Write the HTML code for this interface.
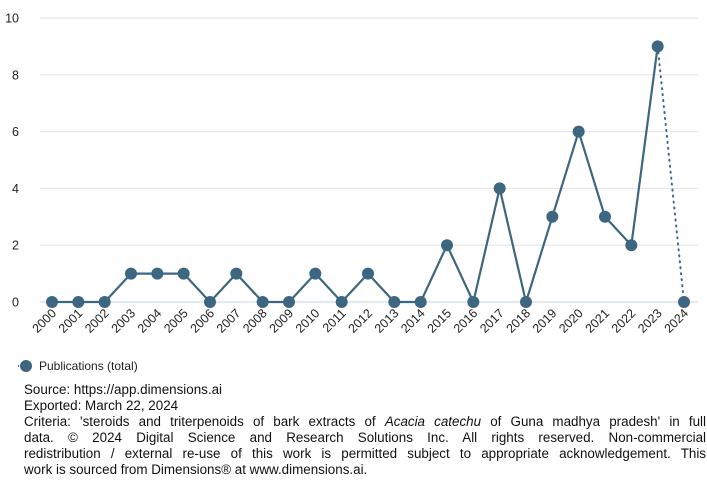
<!DOCTYPE html>
<html><head><meta charset="utf-8"><style>
body{margin:0;background:#fff;width:707px;height:489px;overflow:hidden;font-family:"Liberation Sans",Roboto,sans-serif}
svg{position:absolute;left:0;top:0}
#notes{position:absolute;left:24px;top:382px;width:682px;font-size:13.4px;line-height:16px;color:#111}
#notes .j{text-align:justify;text-align-last:justify;white-space:nowrap}
</style></head><body>
<svg width="707" height="380" id="chart"></svg>
<div id="notes">
<div>Source: https://app.dimensions.ai</div>
<div>Exported: March 22, 2024</div>
<div class="j">Criteria: 'steroids and triterpenoids of bark extracts of <i>Acacia catechu</i> of Guna madhya pradesh' in full</div>
<div class="j">data. © 2024 Digital Science and Research Solutions Inc. All rights reserved. Non-commercial</div>
<div class="j">redistribution / external re-use of this work is permitted subject to appropriate acknowledgement. This</div>
<div>work is sourced from Dimensions® at www.dimensions.ai.</div>
</div>
<script>
const years=["2000","2001","2002","2003","2004","2005","2006","2007","2008","2009","2010","2011","2012","2013","2014","2015","2016","2017","2018","2019","2020","2021","2022","2023","2024"];
const pubs=[0,0,0,1,1,1,0,1,0,0,1,0,1,0,0,2,0,4,0,3,6,3,2,9,0];
const yTicks=[0,2,4,6,8,10];
const NS="http://www.w3.org/2000/svg";
const svg=document.getElementById('chart');
const X=i=>52+i*(632/24);
const Y=v=>302-v*28.4;
function mk(t,a){const e=document.createElementNS(NS,t);for(const k in a)e.setAttribute(k,a[k]);svg.appendChild(e);return e;}
yTicks.forEach(v=>{
 const l=mk('line',{x1:40,x2:698,y1:Y(v),y2:Y(v),stroke:v===0?'#c5d3e2':'#e2e2e2','stroke-width':1});
 
 
 const t=mk('text',{x:19,y:Y(v)+4.5,'font-size':12.5,fill:'#222','text-anchor':'end'});
 t.textContent=v;
 
 
});
years.forEach((y,i)=>{
 const t=mk('text',{x:0,y:0,'font-size':12.5,fill:'#222','text-anchor':'end',transform:`translate(${X(i)+5},${314}) rotate(-45)`});
 t.textContent=y;
 
 
});
let d='';
for(let i=0;i<years.length-1;i++)d+=(i?'L':'M')+X(i)+','+Y(pubs[i]);
const p=mk('path',{d:d,fill:'none',stroke:'#3d6781','stroke-width':2.2});


const n=years.length-1;
const dl=mk('line',{x1:X(n-1),y1:Y(pubs[n-1]),x2:X(n),y2:Y(pubs[n]),stroke:'#3d6781','stroke-width':2,'stroke-dasharray':'1 5','stroke-linecap':'round'});


pubs.forEach((v,i)=>{
 const c=mk('circle',{cx:X(i),cy:Y(v),r:6,fill:'#3d6781'});
 
 
});
const g=mk('g',{});


const ll=document.createElementNS(NS,'line');
ll.setAttribute('x1',18);ll.setAttribute('x2',34);ll.setAttribute('y1',366);ll.setAttribute('y2',366);
ll.setAttribute('stroke','#3d6781');ll.setAttribute('stroke-width',2);ll.setAttribute('stroke-dasharray','1 3');
g.appendChild(ll);
const lc=document.createElementNS(NS,'circle');
lc.setAttribute('cx',26);lc.setAttribute('cy',366);lc.setAttribute('r',6);lc.setAttribute('fill','#3d6781');
g.appendChild(lc);
const lt=document.createElementNS(NS,'text');
lt.setAttribute('x',39);lt.setAttribute('y',370);lt.setAttribute('font-size',12);lt.setAttribute('fill','#222');
lt.textContent='Publications (total)';
g.appendChild(lt);
</script>
</body></html>
